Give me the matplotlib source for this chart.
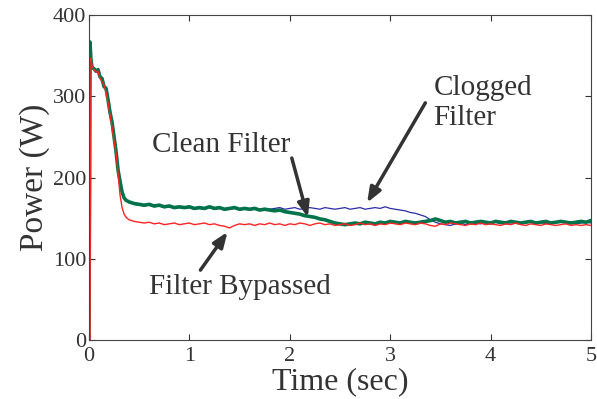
import matplotlib.pyplot as plt

plt.rcParams['font.family'] = ['Liberation Serif', 'DejaVu Serif']

# Sample times (sec): dense during the start-up transient, then every 0.05 s
t_start = [0.0, 0.01, 0.02, 0.03, 0.05, 0.07, 0.09, 0.11, 0.13, 0.15, 0.17, 0.19, 0.21,
           0.23, 0.25, 0.27, 0.29, 0.31, 0.33, 0.35, 0.37, 0.40]
t_run = [round(0.45 + 0.05 * i, 2) for i in range(92)]
t = t_start + t_run

# Power (W), clean filter
clean = [0, 367, 345, 336, 334, 331, 333, 324, 322, 312, 310, 296, 280,
         268, 250, 232, 209, 195, 182, 175, 172, 170,
         168, 167, 166, 167, 165, 166, 164, 165, 163, 164, 163, 164,
         162, 163, 162, 164, 162, 163, 161, 162, 163, 161,
         162, 161, 162, 160, 161, 160, 159, 160, 158, 157,
         156, 155, 153, 152, 151, 149, 148, 146, 144, 143,
         142, 143, 144, 143, 145, 144, 143, 145, 144, 146,
         145, 144, 146, 145, 144, 145, 146, 147, 149, 147,
         145, 146, 144, 145, 146, 144, 145, 146, 145, 144,
         146, 145, 144, 146, 145, 144, 145, 146, 144, 145,
         146, 144, 145, 146, 145, 144, 145, 146, 145, 147]

# Power (W), clogged filter
clogged = [0, 365, 344, 335, 333, 330, 332, 323, 321, 311, 309, 295, 279,
           267, 249, 231, 208, 194, 181, 174, 171, 169,
           167, 166, 165, 166, 164, 165, 163, 164, 162, 163, 162, 163,
           161, 162, 161, 163, 161, 162, 160, 161, 162, 160,
           161, 160, 161, 161, 162, 161, 162, 163, 161, 162,
           163, 161, 162, 163, 162, 161, 163, 162, 161, 162,
           163, 161, 162, 163, 161, 162, 163, 162, 164, 162,
           161, 160, 159, 157, 156, 154, 152, 148, 145, 143,
           142, 141, 143, 144, 142, 145, 144, 143, 145, 144,
           145, 143, 146, 144, 145, 143, 144, 146, 144, 145,
           143, 145, 144, 146, 144, 145, 143, 144, 145, 144]

# Power (W), filter bypassed
bypassed = [0, 0, 347, 338, 333, 330, 331, 322, 318, 314, 305, 292, 276,
            262, 244, 230, 205, 178, 163, 155, 151, 148,
            146, 145, 144, 145, 143, 144, 142, 143, 144, 142, 143, 144,
            142, 143, 144, 142, 143, 141, 140, 138, 141, 143,
            142, 143, 141, 143, 142, 144, 142, 143, 141, 143,
            142, 144, 143, 141, 143, 144, 142, 143, 141, 142,
            143, 141, 142, 144, 142, 143, 141, 143, 142, 144,
            143, 142, 144, 143, 142, 144, 143, 141, 140, 143,
            142, 144, 143, 142, 141, 143, 142, 144, 142, 143,
            142, 141, 143, 142, 144, 142, 141, 143, 142, 141,
            143, 142, 141, 142, 143, 141, 142, 141, 142, 141]

fig = plt.figure(figsize=(5.97, 3.99), dpi=100)
ax = fig.add_axes([0.149, 0.148, 0.841, 0.814])

ax.plot(t, clogged, color='#2b2ba6', linewidth=0.9)
ax.plot(t, clean, color='#00734a', linewidth=2.6)
ax.plot(t, bypassed, color='#ff2424', linewidth=1.0)

ax.set_xlim(0, 5)
ax.set_ylim(0, 400)
ax.set_xticks([0, 1, 2, 3, 4, 5])
ax.set_yticks([0, 100, 200, 300, 400])
ax.tick_params(direction='in', labelsize=16, colors='#333333', length=4, top=True, right=True,
               labeltop=False, labelright=False)
ax.tick_params(axis='y', pad=2)
ax.tick_params(axis='x', pad=5)
for s in ax.spines.values():
    s.set_color('#444444')

ax.set_xlabel('Time (sec)', fontsize=23, color='#333333', labelpad=1)
ax.set_ylabel('Power (W)', fontsize=24, color='#333333', labelpad=2)

arrow = dict(arrowstyle='-|>,head_width=0.35,head_length=0.9', color='#333333', lw=2.5,
             shrinkA=0, shrinkB=0)
ax.annotate('', xy=(2.18, 151), xytext=(2.02, 224), arrowprops=arrow)
ax.annotate('', xy=(2.77, 169), xytext=(3.35, 292), arrowprops=arrow)
ax.annotate('', xy=(1.38, 133), xytext=(1.11, 86), arrowprops=arrow)

ax.text(1.32, 240, 'Clean Filter', fontsize=21, color='#333333', ha='center', va='center')
ax.text(3.43, 292, 'Clogged\nFilter', fontsize=21, color='#333333', ha='left', va='center',
        linespacing=1.2)
ax.text(1.50, 65, 'Filter Bypassed', fontsize=21, color='#333333', ha='center', va='center')

fig.savefig('out.png', dpi=100)
